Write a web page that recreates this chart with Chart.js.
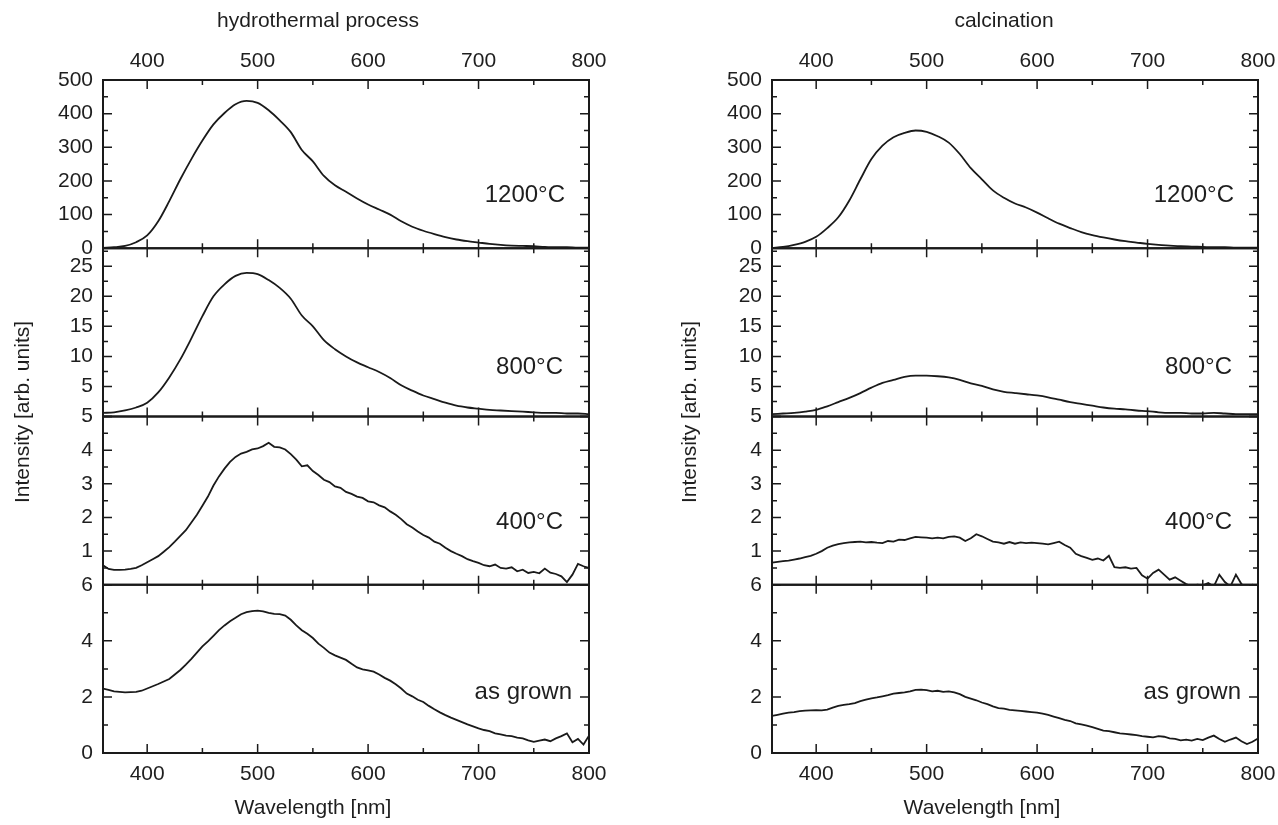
<!DOCTYPE html>
<html>
<head>
<meta charset="utf-8">
<title>Luminescence spectra</title>
<script src="https://cdn.jsdelivr.net/npm/chart.js@4.4.1/dist/chart.umd.min.js"></script>
<style>
  html, body { margin: 0; padding: 0; background: #fff; }
  body { width: 1278px; height: 825px; position: relative; overflow: hidden; }
  canvas { position: absolute; top: 0; }
  #left { left: 0; }
  #right { left: 640px; }
</style>
</head>
<body>
<canvas id="left" width="640" height="825"></canvas>
<canvas id="right" width="660" height="825"></canvas>
<script>
// Wavelength grids (nm)
const WL_10 = [360, 370, 380, 390, 400, 410, 420, 430, 440, 450, 460, 470, 480, 490, 500,
  510, 520, 530, 540, 550, 560, 570, 580, 590, 600, 610, 620, 630, 640, 650, 660, 670,
  680, 690, 700, 710, 720, 730, 740, 750, 760, 770, 780, 790, 800];
const WL_5 = [360, 365, 370, 375, 380, 385, 390, 395, 400, 405, 410, 415, 420, 425, 430,
  435, 440, 445, 450, 455, 460, 465, 470, 475, 480, 485, 490, 495, 500, 505, 510, 515,
  520, 525, 530, 535, 540, 545, 550, 555, 560, 565, 570, 575, 580, 585, 590, 595, 600,
  605, 610, 615, 620, 625, 630, 635, 640, 645, 650, 655, 660, 665, 670, 675, 680, 685,
  690, 695, 700, 705, 710, 715, 720, 725, 730, 735, 740, 745, 750, 755, 760, 765, 770,
  775, 780, 785, 790, 795, 800];

// Hydrothermal process
const HYDRO_1200 = [1, 3, 7, 18, 38, 80, 140, 205, 265, 320, 368, 402, 428, 438, 432, 410,
  380, 345, 292, 258, 215, 187, 168, 148, 130, 115, 100, 80, 64, 52, 42, 33, 26, 21, 17,
  13, 10, 8, 7, 6, 4, 3, 3, 2, 2];
const HYDRO_800 = [0.6, 0.7, 1.0, 1.5, 2.3, 4.0, 6.5, 9.5, 13.0, 16.7, 20.0, 22.0, 23.4,
  23.9, 23.7, 22.7, 21.4, 19.6, 16.8, 15.0, 12.7, 11.2, 10.0, 9.0, 8.2, 7.4, 6.4, 5.2,
  4.3, 3.5, 2.9, 2.3, 1.8, 1.5, 1.3, 1.1, 1.0, 0.9, 0.8, 0.7, 0.6, 0.6, 0.5, 0.5, 0.4];
const HYDRO_400 = [0.58, 0.47, 0.44, 0.44, 0.45, 0.47, 0.50, 0.58, 0.67, 0.76, 0.85, 0.98,
  1.12, 1.28, 1.45, 1.62, 1.85, 2.08, 2.35, 2.62, 2.95, 3.22, 3.45, 3.65, 3.80, 3.90,
  3.95, 4.02, 4.05, 4.12, 4.22, 4.10, 4.08, 4.02, 3.88, 3.72, 3.52, 3.55, 3.38, 3.26,
  3.12, 3.05, 2.92, 2.88, 2.76, 2.70, 2.62, 2.58, 2.48, 2.45, 2.36, 2.30, 2.18, 2.08,
  1.95, 1.80, 1.70, 1.58, 1.48, 1.40, 1.28, 1.22, 1.10, 1.00, 0.92, 0.85, 0.76, 0.70,
  0.65, 0.58, 0.55, 0.60, 0.50, 0.48, 0.52, 0.40, 0.45, 0.35, 0.38, 0.34, 0.48, 0.36,
  0.32, 0.25, 0.08, 0.30, 0.62, 0.55, 0.50];
const HYDRO_GROWN = [2.30, 2.25, 2.20, 2.18, 2.16, 2.17, 2.18, 2.22, 2.30, 2.38, 2.46, 2.55,
  2.64, 2.80, 2.96, 3.15, 3.36, 3.58, 3.80, 3.98, 4.18, 4.38, 4.55, 4.70, 4.82, 4.95,
  5.02, 5.06, 5.08, 5.05, 5.00, 4.96, 4.95, 4.90, 4.75, 4.55, 4.38, 4.25, 4.10, 3.90,
  3.75, 3.58, 3.48, 3.40, 3.32, 3.18, 3.05, 2.98, 2.95, 2.90, 2.80, 2.68, 2.58, 2.45,
  2.30, 2.12, 2.02, 1.90, 1.82, 1.68, 1.56, 1.45, 1.35, 1.26, 1.18, 1.10, 1.02, 0.95,
  0.88, 0.82, 0.78, 0.70, 0.66, 0.62, 0.60, 0.55, 0.52, 0.45, 0.40, 0.44, 0.48, 0.42,
  0.52, 0.60, 0.70, 0.38, 0.50, 0.30, 0.62];

// Calcination
const CALC_1200 = [1, 4, 10, 19, 34, 60, 92, 142, 205, 265, 305, 330, 343, 350, 346, 333,
  314, 280, 238, 205, 172, 150, 133, 121, 106, 89, 73, 60, 48, 39, 32, 26, 21, 17, 13,
  10, 8, 6, 5, 4, 3, 3, 2, 2, 2];
const CALC_800 = [0.4, 0.5, 0.6, 0.8, 1.1, 1.7, 2.4, 3.1, 3.9, 4.8, 5.6, 6.1, 6.6, 6.8, 6.8,
  6.7, 6.5, 6.1, 5.5, 5.1, 4.5, 4.1, 3.9, 3.7, 3.5, 3.2, 2.8, 2.4, 2.1, 1.8, 1.5, 1.3,
  1.2, 1.0, 0.9, 0.7, 0.6, 0.6, 0.5, 0.5, 0.6, 0.5, 0.4, 0.4, 0.4];
const CALC_400 = [0.66, 0.68, 0.70, 0.72, 0.75, 0.78, 0.82, 0.86, 0.92, 1.00, 1.10, 1.16,
  1.21, 1.24, 1.26, 1.27, 1.28, 1.26, 1.27, 1.25, 1.24, 1.30, 1.28, 1.34, 1.33, 1.38,
  1.42, 1.41, 1.40, 1.38, 1.40, 1.38, 1.42, 1.44, 1.40, 1.30, 1.38, 1.50, 1.44, 1.36,
  1.28, 1.26, 1.22, 1.27, 1.22, 1.26, 1.24, 1.25, 1.24, 1.22, 1.20, 1.24, 1.28, 1.18,
  1.10, 0.92, 0.85, 0.80, 0.74, 0.78, 0.72, 0.86, 0.52, 0.50, 0.52, 0.48, 0.50, 0.28,
  0.18, 0.35, 0.45, 0.30, 0.15, 0.22, 0.12, 0.02, -0.05, 0.00, -0.02, 0.05, -0.05, 0.30,
  0.08, -0.05, 0.30, 0.02, -0.10, 0.00, -0.05];
const CALC_GROWN = [1.32, 1.36, 1.40, 1.44, 1.46, 1.49, 1.51, 1.52, 1.53, 1.52, 1.55, 1.62,
  1.68, 1.72, 1.74, 1.78, 1.85, 1.90, 1.95, 1.98, 2.02, 2.06, 2.12, 2.14, 2.16, 2.20,
  2.25, 2.26, 2.24, 2.20, 2.22, 2.18, 2.20, 2.16, 2.10, 2.00, 1.94, 1.88, 1.80, 1.74,
  1.66, 1.60, 1.58, 1.54, 1.52, 1.50, 1.48, 1.46, 1.44, 1.40, 1.36, 1.30, 1.24, 1.18,
  1.14, 1.06, 1.02, 0.98, 0.92, 0.86, 0.80, 0.78, 0.74, 0.70, 0.68, 0.66, 0.64, 0.60,
  0.58, 0.56, 0.60, 0.58, 0.52, 0.50, 0.45, 0.48, 0.44, 0.50, 0.46, 0.55, 0.62, 0.50,
  0.40, 0.48, 0.55, 0.42, 0.32, 0.40, 0.52];

// Axes
const X_TICKS = [400, 500, 600, 700, 800];
const X_MINOR = [450, 550, 650, 750];
const Y_MAX = [500, 28, 5, 6];
const Y_TICKS = [[0, 100, 200, 300, 400, 500], [0, 5, 10, 15, 20, 25], [0, 1, 2, 3, 4, 5], [0, 2, 4, 6]];
const Y_MINOR = [[50, 150, 250, 350, 450], [2.5, 7.5, 12.5, 17.5, 22.5, 27.5], [0.5, 1.5, 2.5, 3.5, 4.5], [1, 3, 5]];
const HIDE_ZERO = [false, true, true, false];
const PANEL_LABELS = ["1200\u00B0C", "800\u00B0C", "400\u00B0C", "as grown"];

const PANEL_IDS = ["y0", "y1", "y2", "y3"];
const INK = "#1a1a1a";
const TEXT = "#1e1e1e";
const FONT = "'Liberation Sans', Arial, sans-serif";
const LABEL_POS = [0.685, 0.71, 0.63, 0.64];
const LABEL_INSET = [24, 26, 26, 17];

// clip every spectrum to its own panel, then draw frames, inward ticks and texts
const framePlugin = {
  id: "frames",
  beforeDatasetDraw(chart, args) {
    const { ctx, chartArea } = chart;
    const ys = chart.scales[args.meta.yAxisID];
    ctx.save();
    ctx.beginPath();
    ctx.rect(chartArea.left, ys.top, chartArea.right - chartArea.left, ys.bottom - ys.top);
    ctx.clip();
  },
  afterDatasetDraw(chart) {
    chart.ctx.restore();
  },
  afterDraw(chart, args, opts) {
    const { ctx, chartArea } = chart;
    const { left, right } = chartArea;
    const xs = chart.scales.x;
    ctx.save();
    ctx.strokeStyle = INK;
    PANEL_IDS.forEach((id, i) => {
      const ys = chart.scales[id];
      const top = ys.top;
      const bottom = ys.bottom;
      ctx.lineWidth = 1.5;
      ctx.beginPath();
      const xTick = (vals, len) => vals.forEach((v) => {
        const px = xs.getPixelForValue(v);
        ctx.moveTo(px, bottom); ctx.lineTo(px, bottom - len);
        ctx.moveTo(px, top); ctx.lineTo(px, top + len);
      });
      const yTick = (vals, len) => vals.forEach((v) => {
        const py = ys.getPixelForValue(v);
        ctx.moveTo(left, py); ctx.lineTo(left + len, py);
        ctx.moveTo(right, py); ctx.lineTo(right - len, py);
      });
      xTick(X_TICKS, 9);
      xTick(X_MINOR, 5);
      yTick(Y_TICKS[i], 9);
      yTick(Y_MINOR[i], 5);
      ctx.stroke();
      ctx.lineWidth = 2;
      ctx.strokeRect(left, top, right - left, bottom - top);

      ctx.fillStyle = TEXT;
      ctx.font = "24px " + FONT;
      ctx.textAlign = "right";
      ctx.textBaseline = "middle";
      ctx.fillText(PANEL_LABELS[i], right - LABEL_INSET[i], top + LABEL_POS[i] * (bottom - top));
    });

    ctx.fillStyle = TEXT;
    ctx.font = "21px " + FONT;
    ctx.textAlign = "center";
    ctx.textBaseline = "middle";
    ctx.fillText(opts.title, opts.titleX, 21);
    ctx.fillText("Wavelength [nm]", opts.wlX, 808);
    ctx.translate(opts.intX, 412);
    ctx.rotate(-Math.PI / 2);
    ctx.fillText("Intensity [arb. units]", 0, 0);
    ctx.restore();
  },
};

function xScale(position, height, pad) {
  return {
    type: "linear",
    position,
    min: 360,
    max: 800,
    grid: { display: false, drawTicks: false },
    border: { display: false },
    ticks: { autoSkip: false, maxRotation: 0, padding: pad, color: TEXT, font: { family: FONT, size: 21 } },
    afterBuildTicks: (s) => { s.ticks = X_TICKS.map((v) => ({ value: v })); },
    afterFit: (s) => { s.height = height; },
  };
}

function yScale(i, width) {
  return {
    type: "linear",
    position: "left",
    stack: "panels",
    stackWeight: 1,
    min: 0,
    max: Y_MAX[i],
    grid: { display: false, drawTicks: false },
    border: { display: false },
    ticks: {
      autoSkip: false,
      padding: 10,
      color: TEXT,
      font: { family: FONT, size: 21 },
      callback: (v) => (HIDE_ZERO[i] && v === 0 ? "" : String(v)),
    },
    afterBuildTicks: (s) => { s.ticks = Y_TICKS[i].map((v) => ({ value: v })); },
    afterFit: (s) => { s.width = width; },
  };
}

function makeChart(canvasId, series, geo) {
  const datasets = series.map((s, i) => ({
    data: s.x.map((x, k) => ({ x, y: s.y[k] })),
    yAxisID: PANEL_IDS[i],
    borderColor: INK,
    borderWidth: 1.8,
    pointRadius: 0,
    fill: false,
    tension: 0,
    cubicInterpolationMode: s.x === WL_10 ? "monotone" : "default",
  }));

  // stacked axes are laid out bottom-up, so add the lowest panel first
  const scales = { x: xScale("bottom", 72, 9), xTop: xScale("top", 80, 6) };
  for (let i = PANEL_IDS.length - 1; i >= 0; i--) {
    scales[PANEL_IDS[i]] = yScale(i, geo.axisW);
  }

  return new Chart(document.getElementById(canvasId), {
    type: "line",
    data: { datasets },
    options: {
      responsive: false,
      animation: false,
      events: [],
      layout: { padding: { left: 0, top: 0, bottom: 0, right: geo.padRight } },
      plugins: {
        legend: { display: false },
        tooltip: { enabled: false },
        frames: geo,
      },
      scales,
    },
    plugins: [framePlugin],
  });
}

makeChart("left", [
  { x: WL_10, y: HYDRO_1200 },
  { x: WL_10, y: HYDRO_800 },
  { x: WL_5, y: HYDRO_400 },
  { x: WL_5, y: HYDRO_GROWN },
], { axisW: 103, padRight: 51, title: "hydrothermal process", titleX: 318, wlX: 313, intX: 23 });

makeChart("right", [
  { x: WL_10, y: CALC_1200 },
  { x: WL_10, y: CALC_800 },
  { x: WL_5, y: CALC_400 },
  { x: WL_5, y: CALC_GROWN },
], { axisW: 132, padRight: 42, title: "calcination", titleX: 364, wlX: 342, intX: 50 });
</script>
</body>
</html>
